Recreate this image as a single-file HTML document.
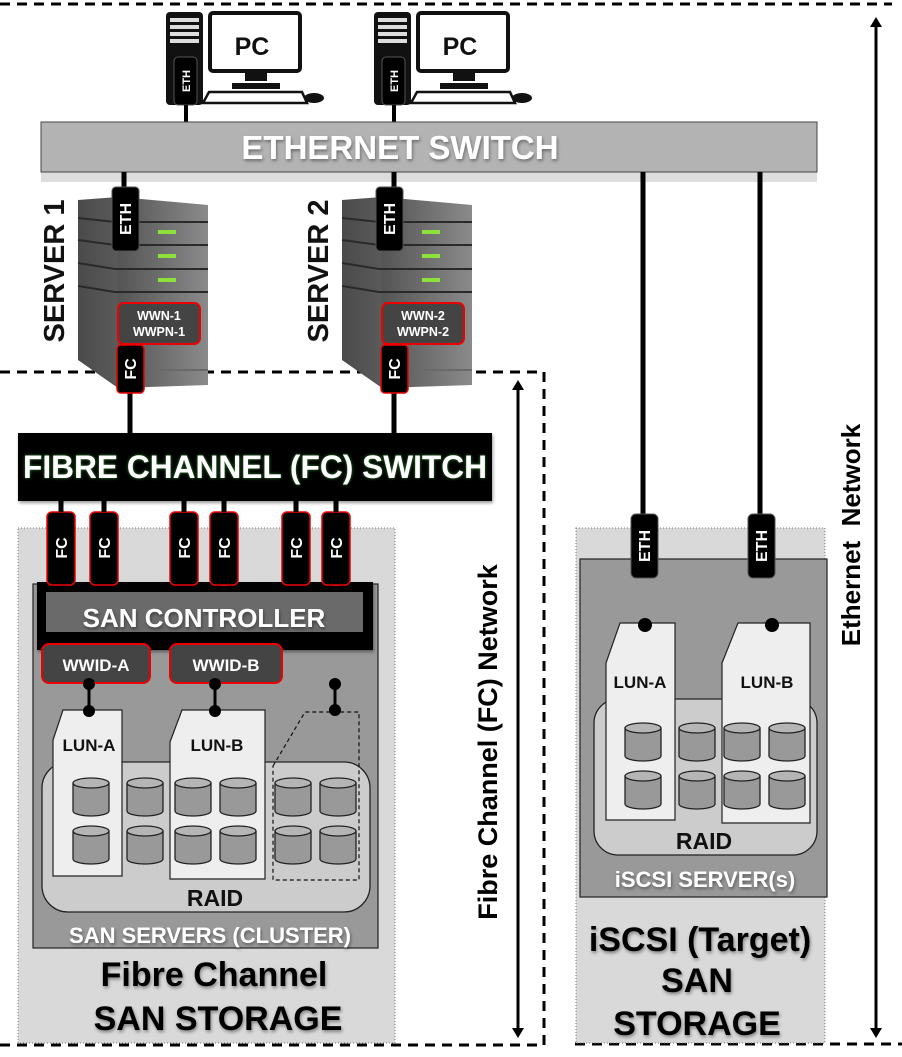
<!DOCTYPE html>
<html><head><meta charset="utf-8"><style>
html,body{margin:0;padding:0;background:#fff}
svg{display:block}
text{font-family:"Liberation Sans",Arial,sans-serif;font-weight:bold}
</style></head><body>
<svg width="902" height="1057" viewBox="0 0 902 1057" xmlns="http://www.w3.org/2000/svg">
<defs>
<linearGradient id="srv" x1="0" x2="1" y1="0" y2="0">
<stop offset="0" stop-color="#4a4a4a"/><stop offset="0.3" stop-color="#5a5a5a"/><stop offset="0.31" stop-color="#555"/><stop offset="1" stop-color="#8a8a8a"/>
</linearGradient>
<filter id="sh" x="-10%" y="-10%" width="130%" height="130%"><feDropShadow dx="1" dy="2" stdDeviation="1.5" flood-color="#000" flood-opacity="0.4"/></filter>
<filter id="glow" x="-5%" y="-20%" width="110%" height="140%"><feDropShadow dx="0" dy="0" stdDeviation="1.5" flood-color="#2a8a2a" flood-opacity="1"/></filter>
<marker id="ah" markerWidth="10" markerHeight="12" refX="5" refY="6" orient="auto-start-reverse" markerUnits="userSpaceOnUse"><path d="M0,0 L10,6 L0,12 z" fill="#000"/></marker>
<g id="cyl">
<path d="M0,5 L0,33 A18,5 0 0 0 36,33 L36,5" fill="#999" stroke="#222" stroke-width="1.3"/>
<ellipse cx="18" cy="5" rx="18" ry="5" fill="#b5b5b5" stroke="#222" stroke-width="1.3"/>
</g>
</defs>

<path d="M0,4 L892,4" stroke="#000" stroke-width="3" stroke-dasharray="10,7" fill="none"/>
<path d="M0,372 L544,372 L544,1045 L0,1045" stroke="#000" stroke-width="3" stroke-dasharray="10,7" fill="none"/>
<path d="M575,1044 L902,1044" stroke="#000" stroke-width="3" stroke-dasharray="10,7" fill="none"/>

<line x1="876" y1="22" x2="876" y2="1033" stroke="#000" stroke-width="3" marker-start="url(#ah)" marker-end="url(#ah)"/>
<line x1="518" y1="385" x2="518" y2="1033" stroke="#000" stroke-width="3" marker-start="url(#ah)" marker-end="url(#ah)"/>
<text transform="translate(860,535) rotate(-90)" font-size="26" text-anchor="middle" fill="#000">Ethernet&#160;&#160;Network</text>
<text transform="translate(497,742) rotate(-90)" font-size="27" text-anchor="middle" fill="#000">Fibre Channel (FC) Network</text>

<g id="pc">
<rect x="166" y="12" width="37" height="93" rx="4" fill="#111"/>
<rect x="170" y="18" width="29" height="4" fill="#ddd"/><rect x="170" y="25" width="29" height="4" fill="#ddd"/><rect x="170" y="32" width="29" height="4" fill="#ddd"/><rect x="170" y="39" width="29" height="4" fill="#ddd"/>
<rect x="210" y="13" width="90" height="58" rx="3" fill="#fff" stroke="#111" stroke-width="4"/>
<text x="252" y="55" font-size="25" text-anchor="middle" fill="#111">PC</text>
<rect x="245" y="73" width="22" height="8" fill="#111"/>
<rect x="232" y="83" width="48" height="6" fill="#111"/>
<path d="M209,92 L302,92 L307,103 L203,103 z" fill="#fff" stroke="#111" stroke-width="2.5"/>
<ellipse cx="314" cy="98" rx="10" ry="5" fill="#111"/>
<rect x="174" y="57" width="23" height="48" rx="4" fill="#000" stroke="#555" stroke-width="1"/>
<text transform="translate(190,81) rotate(-90)" font-size="11" text-anchor="middle" fill="#fff">ETH</text>
<line x1="186" y1="105" x2="186" y2="122" stroke="#000" stroke-width="4"/>
</g>
<use href="#pc" x="208"/>

<rect x="41" y="172" width="776" height="10" fill="#ddd"/>
<rect x="41" y="122" width="776" height="50" fill="#b3b3b3" stroke="#444" stroke-width="1"/>
<text x="400" y="159" font-size="33" text-anchor="middle" fill="#fff" filter="url(#sh)">ETHERNET SWITCH</text>

<line x1="124" y1="172" x2="124" y2="190" stroke="#000" stroke-width="5"/>
<line x1="394" y1="172" x2="394" y2="190" stroke="#000" stroke-width="5"/>
<line x1="643" y1="172" x2="643" y2="516" stroke="#000" stroke-width="5"/>
<line x1="760" y1="172" x2="760" y2="516" stroke="#000" stroke-width="5"/>
<line x1="130" y1="390" x2="130" y2="434" stroke="#000" stroke-width="5"/>
<line x1="394" y1="390" x2="394" y2="434" stroke="#000" stroke-width="5"/>

<g id="server">
<path d="M78,200 L118,197 L208,205 L208,385 L118,388 L78,360 z" fill="url(#srv)"/>
<path d="M78,218 L115,222 L208,222" stroke="#2a2a2a" stroke-width="2" fill="none"/>
<path d="M78,240 L115,245 L208,245" stroke="#2a2a2a" stroke-width="2" fill="none"/>
<path d="M78,263 L115,269 L208,269" stroke="#2a2a2a" stroke-width="2" fill="none"/>
<path d="M78,286 L115,292 L208,292" stroke="#2a2a2a" stroke-width="2" fill="none"/>
<path d="M150,370 L208,370" stroke="#6a6a6a" stroke-width="2" fill="none"/>
<rect x="158" y="230" width="18" height="4" fill="#8ee03a"/>
<rect x="158" y="254" width="18" height="4" fill="#8ee03a"/>
<rect x="158" y="278" width="18" height="4" fill="#8ee03a"/>
<rect x="112" y="187" width="27" height="64" rx="4" fill="#000" stroke="#555" stroke-width="1"/>
<text transform="translate(131,219) rotate(-90)" font-size="16" text-anchor="middle" fill="#fff">ETH</text>
<rect x="118" y="303" width="82" height="41" rx="6" fill="#444" stroke="#e00" stroke-width="2"/>
<rect x="117" y="345" width="27" height="48" rx="4" fill="#000" stroke="#e00" stroke-width="1.5"/>
<text transform="translate(136,369) rotate(-90)" font-size="16" text-anchor="middle" fill="#fff">FC</text>
</g>
<text x="159" y="320" font-size="12.5" text-anchor="middle" fill="#fff">WWN-1</text>
<text x="159" y="336" font-size="12.5" text-anchor="middle" fill="#fff">WWPN-1</text>
<use href="#server" x="264"/>
<text x="423" y="320" font-size="12.5" text-anchor="middle" fill="#fff">WWN-2</text>
<text x="423" y="336" font-size="12.5" text-anchor="middle" fill="#fff">WWPN-2</text>
<text transform="translate(64,271) rotate(-90)" font-size="29" text-anchor="middle" fill="#111">SERVER 1</text>
<text transform="translate(328,271) rotate(-90)" font-size="29" text-anchor="middle" fill="#111">SERVER 2</text>

<rect x="18" y="433" width="474" height="68" fill="#000" filter="url(#sh)"/>
<text x="255" y="478" font-size="32" text-anchor="middle" fill="#fff" filter="url(#glow)" textLength="464" lengthAdjust="spacingAndGlyphs">FIBRE CHANNEL (FC) SWITCH</text>

<rect x="18" y="528" width="377" height="515" fill="#d9d9d9" stroke="#777" stroke-width="1" stroke-dasharray="1,2"/>
<rect x="33" y="584" width="345" height="364" fill="#999" stroke="#222" stroke-width="1.2"/>
<rect x="37" y="582" width="336" height="68" fill="#000" filter="url(#sh)"/>
<rect x="46" y="592" width="317" height="40" fill="#6a6a6a"/>
<text x="204" y="627" font-size="26" text-anchor="middle" fill="#fff" filter="url(#sh)">SAN CONTROLLER</text>

<g fill="#000" stroke="#e00" stroke-width="1.5">
<rect x="47" y="512" width="28" height="73" rx="5"/>
<rect x="90" y="512" width="28" height="73" rx="5"/>
<rect x="170" y="512" width="28" height="73" rx="5"/>
<rect x="210" y="512" width="28" height="73" rx="5"/>
<rect x="282" y="512" width="28" height="73" rx="5"/>
<rect x="322" y="512" width="28" height="73" rx="5"/>
</g>
<g stroke="#000" stroke-width="5">
<line x1="61" y1="501" x2="61" y2="512"/><line x1="104" y1="501" x2="104" y2="512"/>
<line x1="184" y1="501" x2="184" y2="512"/><line x1="224" y1="501" x2="224" y2="512"/>
<line x1="296" y1="501" x2="296" y2="512"/><line x1="336" y1="501" x2="336" y2="512"/>
</g>
<g font-size="16" fill="#fff" text-anchor="middle">
<text transform="translate(67,548) rotate(-90)">FC</text>
<text transform="translate(110,548) rotate(-90)">FC</text>
<text transform="translate(190,548) rotate(-90)">FC</text>
<text transform="translate(230,548) rotate(-90)">FC</text>
<text transform="translate(302,548) rotate(-90)">FC</text>
<text transform="translate(342,548) rotate(-90)">FC</text>
</g>

<rect x="42" y="644" width="108" height="39" rx="7" fill="#444" stroke="#e00" stroke-width="2"/>
<rect x="170" y="644" width="112" height="39" rx="7" fill="#444" stroke="#e00" stroke-width="2"/>
<text x="96" y="671" font-size="17" text-anchor="middle" fill="#fff">WWID-A</text>
<text x="226" y="671" font-size="17" text-anchor="middle" fill="#fff">WWID-B</text>

<rect x="42" y="762" width="328" height="150" rx="26" fill="#ccc" stroke="#222" stroke-width="1.3"/>
<text x="215" y="906" font-size="23" text-anchor="middle" fill="#111">RAID</text>
<path d="M53,740 L63,710 L122,710 L122,876 L53,876 z" fill="#eee" stroke="#222" stroke-width="1.2"/>
<path d="M170,742 L182,710 L265,710 L265,879 L170,879 z" fill="#eee" stroke="#222" stroke-width="1.2"/>
<path d="M273,766 L305,712 L359,712 L359,880 L273,880 z" fill="none" stroke="#111" stroke-width="1.2" stroke-dasharray="4,3"/>
<text x="89" y="751" font-size="17" text-anchor="middle" fill="#111">LUN-A</text>
<text x="217" y="751" font-size="17" text-anchor="middle" fill="#111">LUN-B</text>
<g stroke="#000" stroke-width="3"><line x1="89" y1="684" x2="89" y2="711"/><line x1="215" y1="684" x2="215" y2="711"/><line x1="335" y1="684" x2="335" y2="710"/></g>
<g fill="#000"><circle cx="89" cy="684" r="6"/><circle cx="89" cy="711" r="6"/><circle cx="215" cy="684" r="6"/><circle cx="215" cy="711" r="6"/><circle cx="335" cy="684" r="6"/><circle cx="335" cy="710" r="6"/></g>
<use href="#cyl" x="73" y="778"/><use href="#cyl" x="127" y="778"/><use href="#cyl" x="175" y="778"/><use href="#cyl" x="220" y="778"/><use href="#cyl" x="275" y="778"/><use href="#cyl" x="320" y="778"/>
<use href="#cyl" x="73" y="826"/><use href="#cyl" x="127" y="826"/><use href="#cyl" x="175" y="826"/><use href="#cyl" x="220" y="826"/><use href="#cyl" x="275" y="826"/><use href="#cyl" x="320" y="826"/>
<text x="210" y="943" font-size="22" text-anchor="middle" fill="#fff" filter="url(#sh)">SAN SERVERS (CLUSTER)</text>
<text x="214" y="986" font-size="34" text-anchor="middle" fill="#000" filter="url(#sh)">Fibre Channel</text>
<text x="218" y="1030" font-size="34" text-anchor="middle" fill="#000" filter="url(#sh)">SAN STORAGE</text>

<rect x="576" y="528" width="249" height="515" fill="#d9d9d9" stroke="#777" stroke-width="1" stroke-dasharray="1,2"/>
<rect x="580" y="559" width="247" height="338" fill="#999" stroke="#222" stroke-width="1.2"/>
<rect x="631" y="514" width="27" height="64" rx="5" fill="#000" stroke="#555"/>
<rect x="748" y="514" width="27" height="64" rx="5" fill="#000" stroke="#555"/>
<text transform="translate(650,546) rotate(-90)" font-size="16" text-anchor="middle" fill="#fff">ETH</text>
<text transform="translate(767,546) rotate(-90)" font-size="16" text-anchor="middle" fill="#fff">ETH</text>
<rect x="594" y="699" width="223" height="156" rx="24" fill="#ccc" stroke="#222" stroke-width="1.3"/>
<path d="M606,663 L620,623 L675,623 L675,820 L606,820 z" fill="#eee" stroke="#222" stroke-width="1.2"/>
<path d="M722,663 L738,623 L810,623 L810,823 L722,823 z" fill="#eee" stroke="#222" stroke-width="1.2"/>
<circle cx="645" cy="625" r="7" fill="#000"/><circle cx="772" cy="625" r="7" fill="#000"/>
<text x="640" y="688" font-size="17" text-anchor="middle" fill="#111">LUN-A</text>
<text x="767" y="688" font-size="17" text-anchor="middle" fill="#111">LUN-B</text>
<use href="#cyl" x="625" y="723"/><use href="#cyl" x="679" y="723"/><use href="#cyl" x="724" y="723"/><use href="#cyl" x="769" y="723"/>
<use href="#cyl" x="625" y="771"/><use href="#cyl" x="679" y="771"/><use href="#cyl" x="724" y="771"/><use href="#cyl" x="769" y="771"/>
<text x="704" y="849" font-size="23" text-anchor="middle" fill="#111">RAID</text>
<text x="705" y="887" font-size="22" text-anchor="middle" fill="#fff" filter="url(#sh)">iSCSI SERVER(s)</text>
<text x="700" y="951" font-size="34" text-anchor="middle" fill="#000" filter="url(#sh)">iSCSI (Target)</text>
<text x="697" y="992" font-size="34" text-anchor="middle" fill="#000" filter="url(#sh)">SAN</text>
<text x="697" y="1035" font-size="34" text-anchor="middle" fill="#000" filter="url(#sh)">STORAGE</text>
</svg>
</body></html>
